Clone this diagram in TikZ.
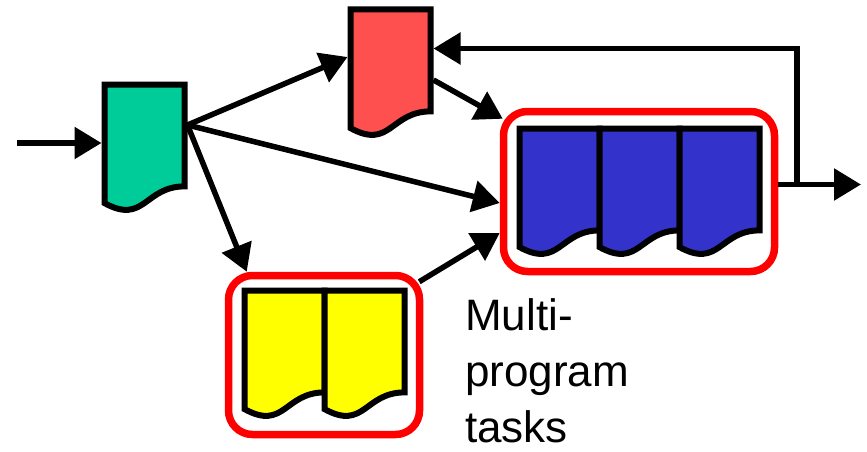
\documentclass[tikz,border=0pt]{standalone}
\usepackage{fontspec}
\setmainfont{Liberation Sans}
\usetikzlibrary{arrows.meta,calc}

\definecolor{docgreen}{RGB}{0,204,153}
\definecolor{docred}{RGB}{255,80,80}
\definecolor{docblue}{RGB}{51,51,204}
\definecolor{docyellow}{RGB}{255,255,0}
\definecolor{grpred}{RGB}{255,0,0}

\tikzset{
  docbox/.style={rectangle, draw=none, inner sep=0pt, outer sep=3pt,
    minimum width=80pt, minimum height=127pt},
  docline/.style={draw=black, line width=6pt, line join=miter},
  grp/.style={rectangle, draw=grpred, line width=7.5pt, rounded corners=24pt,
    inner sep=0pt},
  arr/.style={draw=black, line width=5.5pt,
    -{Triangle[length=27pt,width=31pt]}},
}

% document symbol: name, left x, top y, fill colour (x,y on the stroke centre)
\newcommand{\docat}[4]{%
  \node[docbox] (#1) at (#2+40,#3+63.5) {};
  \draw[docline, fill=#4] (#2,#3) -- (#2+80,#3) -- (#2+80,#3+101.9)
    .. controls (#2+40,#3+101.9) and (#2+40,#3+140.65) .. (#2,#3+118.6)
    -- cycle;
}

\begin{document}
\begin{tikzpicture}[x=1pt,y=-1pt]
  \useasboundingbox (0,0) rectangle (867,452);

  % single documents
  \docat{gdoc}{104.5}{84.5}{docgreen}
  \docat{rdoc}{350.5}{9.5}{docred}

  % blue stack of three
  \docat{b1}{519.5}{128.5}{docblue}
  \docat{b2}{599.5}{128.5}{docblue}
  \docat{b3}{679.5}{128.5}{docblue}

  % yellow pair
  \docat{y1}{244.5}{290.5}{docyellow}
  \docat{y2}{324.5}{290.5}{docyellow}

  % multi-program groups
  \node[grp, minimum width=271pt, minimum height=160pt] (bbox) at (639,191.5) {};
  \node[grp, minimum width=191pt, minimum height=159pt] (ybox) at (324,355) {};

  % label (base anchor sits on the last line)
  \node[anchor=base west, inner sep=0pt, align=left,
        font=\fontsize{44}{56}\selectfont] (lbl) at (465,442)
        {Multi-\\program\\tasks};

  % connector points
  \coordinate (in) at (17,143);
  \coordinate (gout) at ([yshift=23pt]gdoc.east);
  \coordinate (bout) at ([yshift=7pt]bbox.east);
  \coordinate (out) at (861,184.5);
  \coordinate (fbk) at (797,184.5);

  % connectors
  \draw[arr] (in) -- (in -| gdoc.west);
  \draw[arr] (gout) -- ([yshift=16pt]rdoc.west);
  \draw[arr] (gout) -- ([yshift=-11.5pt]bbox.west);
  \draw[arr] (gout) -- ([xshift=22pt]ybox.north west);
  \draw[arr] ([yshift=-7pt]rdoc.east) -- ([shift={(3pt,-11pt)}]bbox.north west);
  \draw[arr] ([shift={(-4pt,-10pt)}]ybox.north east) -- ([yshift=-41.5pt]bbox.west);
  \draw[arr] (bout) -- (out);
  \draw[arr] (fbk) |- ([yshift=24.5pt]rdoc.east);
\end{tikzpicture}
\end{document}
